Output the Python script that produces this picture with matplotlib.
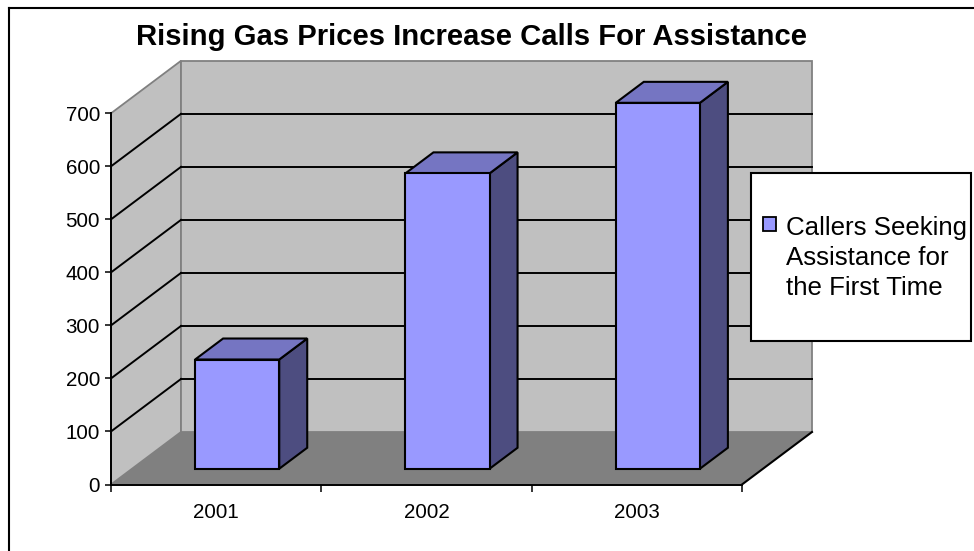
import matplotlib.pyplot as plt
from matplotlib.patches import Polygon, Rectangle
from matplotlib.lines import Line2D

years = ['2001', '2002', '2003']
callers = [206, 557, 690]
y_ticks = [0, 100, 200, 300, 400, 500, 600, 700]
series_name = 'Callers Seeking\nAssistance for\nthe First Time'
title = 'Rising Gas Prices Increase Calls For Assistance'

W, H = 974, 551
plt.rcParams['font.family'] = ['Liberation Sans', 'DejaVu Sans']

fig = plt.figure(figsize=(W / 100, H / 100), dpi=100)
ax = fig.add_axes([0, 0, 1, 1])
ax.patch.set_visible(False)

# front plane: category 0 starts at x=111 px, value 0 sits at y=484.5 px
px_x0, px_cat = 111, 210.33
px_y0, px_unit = 484.5, 0.5303
ax.set_xlim(-px_x0 / px_cat, (W - px_x0) / px_cat)
ax.set_ylim((px_y0 - H) / px_unit, px_y0 / px_unit)

# oblique depth of the plot box, in data units
DX, DY = 70 / px_cat, 52.5 / px_unit
n = len(years)
top = y_ticks[-1]

wall_c, floor_c, edge_c = '#C0C0C0', '#808080', '#808080'
front_c, top_c, side_c = '#9999FF', '#7575C2', '#4D4D80'

# floor, side wall, back wall
ax.add_patch(Polygon([(0, 0), (n, 0), (n + DX, DY), (DX, DY)],
                     fc=floor_c, ec='none', zorder=1))
ax.add_patch(Polygon([(0, 0), (DX, DY), (DX, DY + top), (0, top)],
                     fc=wall_c, ec=edge_c, lw=1.3, zorder=1))
ax.add_patch(Polygon([(DX, DY), (n + DX, DY), (n + DX, DY + top), (DX, DY + top)],
                     fc=wall_c, ec=edge_c, lw=1.3, zorder=1))
ax.plot([n, n + DX], [0, DY], color='black', lw=1.5, zorder=2)

# gridlines on both walls
for v in y_ticks[1:-1]:
    ax.plot([DX, n + DX], [DY + v, DY + v], color='black', lw=1.4, zorder=2)
    ax.plot([0, DX], [v, DY + v], color='black', lw=1.4, zorder=2)

# 3-D bars: 40% of the category wide, 40% of the depth deep
bw, f0, d = 0.4, 0.3, 0.4
for i, v in enumerate(callers):
    x0 = i + (1 - bw) / 2 + f0 * DX
    y0 = f0 * DY
    ox, oy = d * DX, d * DY
    kw = dict(ec='black', lw=1.5, joinstyle='miter', zorder=3 + i)
    ax.add_patch(Polygon([(x0 + bw, y0), (x0 + bw + ox, y0 + oy),
                          (x0 + bw + ox, y0 + v + oy), (x0 + bw, y0 + v)],
                         fc=side_c, **kw))
    ax.add_patch(Polygon([(x0, y0 + v), (x0 + bw, y0 + v),
                          (x0 + bw + ox, y0 + v + oy), (x0 + ox, y0 + v + oy)],
                         fc=top_c, **kw))
    ax.add_patch(Rectangle((x0, y0), bw, v, fc=front_c, **kw))

# axes
for s in ('top', 'right'):
    ax.spines[s].set_visible(False)
ax.spines['left'].set_position(('data', 0))
ax.spines['left'].set_bounds(0, top)
ax.spines['bottom'].set_position(('data', 0))
ax.spines['bottom'].set_bounds(0, n)
for s in ('left', 'bottom'):
    ax.spines[s].set_linewidth(1.4)
    ax.spines[s].set_zorder(10)

ax.set_yticks(y_ticks)
ax.tick_params(axis='y', direction='out', length=4.3, width=1.1, pad=3.6,
               labelsize=14.8)
ax.set_xticks([i + 0.5 for i in range(n)], years)
ax.set_xticks(range(n + 1), minor=True)
ax.tick_params(axis='x', which='major', length=0, pad=13, labelsize=14.8)
ax.tick_params(axis='x', which='minor', direction='out', length=5, width=1.1)

# title
fig.text(471 / W, 1 - 45 / H, title, ha='center', va='baseline',
         fontsize=21.1, fontweight='bold')

# legend box
fig.add_artist(Rectangle((751 / W, 1 - 341 / H), 220 / W, 168.3 / H,
                         transform=fig.transFigure, fc='white', ec='black',
                         lw=1.5, zorder=20))
fig.add_artist(Rectangle((763 / W, 1 - 230.5 / H), 13 / W, 13.5 / H,
                         transform=fig.transFigure, fc=front_c, ec='black',
                         lw=1.3, zorder=21))
fig.text(786.5 / W, 1 - 216 / H, series_name, ha='left', va='top',
         fontsize=18.6, linespacing=1.31, zorder=22)

# chart area border
fig.add_artist(Line2D([9 / W, 9 / W], [1 - 8 / H, 0], transform=fig.transFigure,
                      color='black', lw=1.5))
fig.add_artist(Line2D([9 / W, 1], [1 - 8 / H, 1 - 8 / H], transform=fig.transFigure,
                      color='black', lw=1.5))

fig.savefig('out.png', dpi=100, facecolor='white')
